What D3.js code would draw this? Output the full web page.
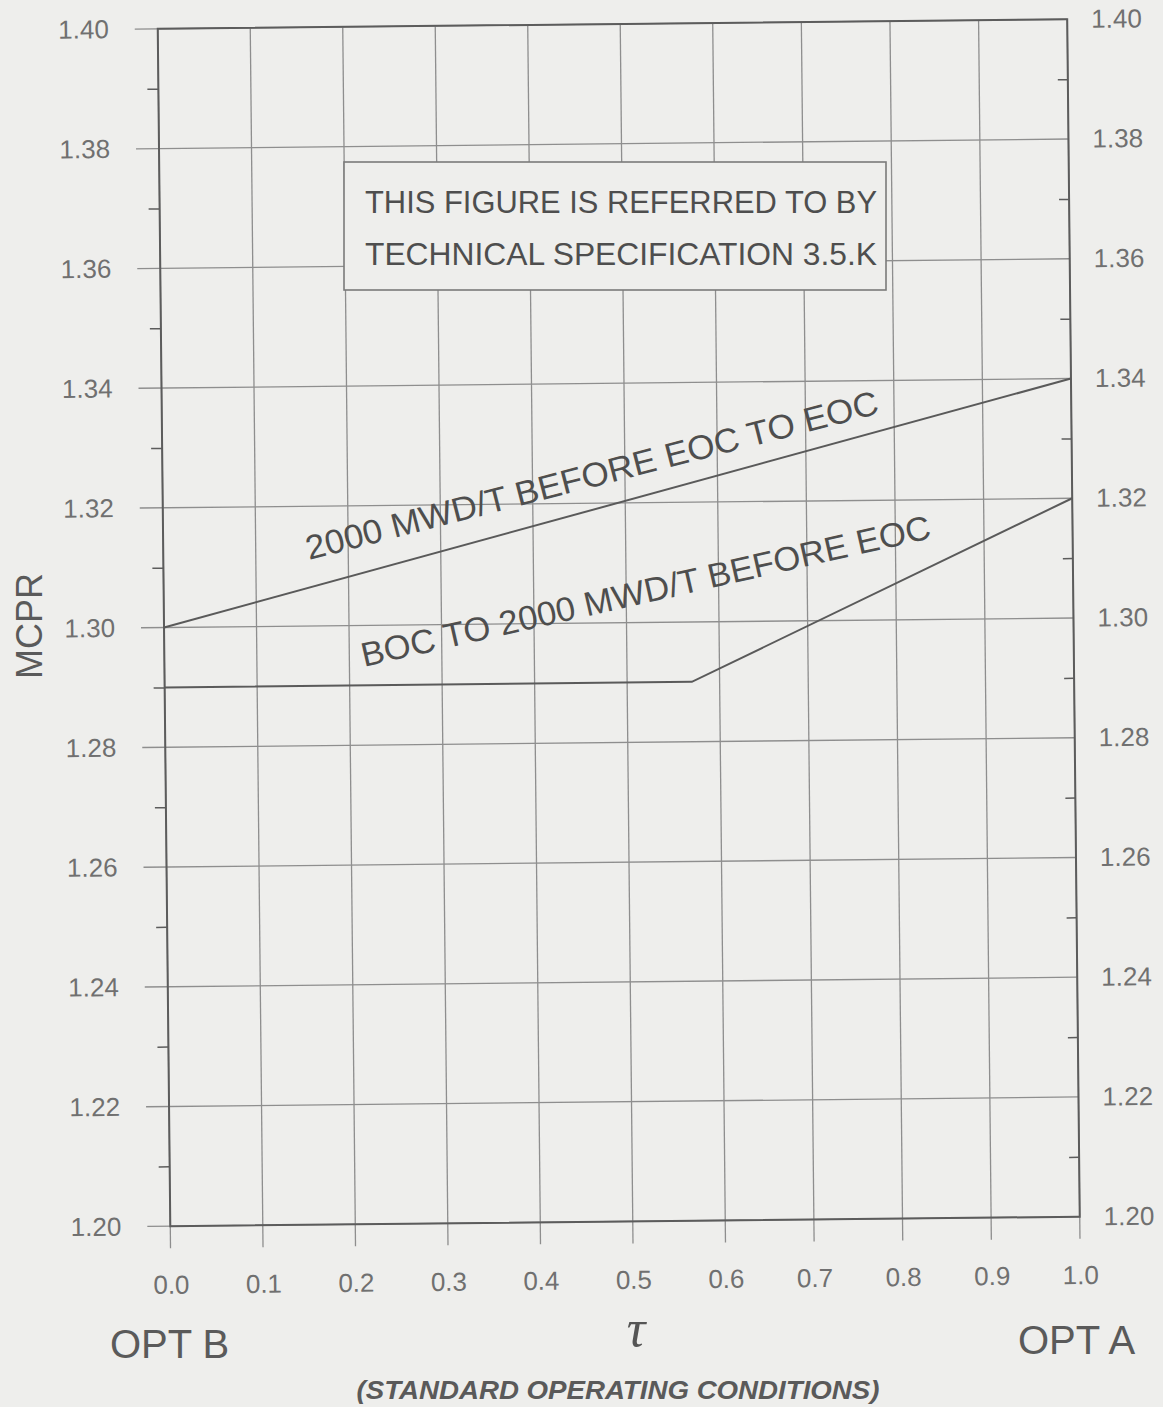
<!DOCTYPE html>
<html><head><meta charset="utf-8">
<script src="https://cdn.jsdelivr.net/npm/d3@7"></script>
<style>
html,body{margin:0;padding:0;background:#eeeeec;}
svg{display:block;}
text{font-family:"Liberation Sans",Arial,Helvetica,sans-serif;}
</style></head><body>
<svg id="chart" width="1163" height="1407"></svg>
<script>
// ---- data ----
const xTicks = [0, 0.1, 0.2, 0.3, 0.4, 0.5, 0.6, 0.7, 0.8, 0.9, 1.0];
const xTickLabels = ["0.0","0.1","0.2","0.3","0.4","0.5","0.6","0.7","0.8","0.9","1.0"];
const yTicks = [1.20, 1.22, 1.24, 1.26, 1.28, 1.30, 1.32, 1.34, 1.36, 1.38, 1.40];
const yTickLabels = ["1.20","1.22","1.24","1.26","1.28","1.30","1.32","1.34","1.36","1.38","1.40"];
const yMinorTicks = [1.21, 1.23, 1.25, 1.27, 1.29, 1.31, 1.33, 1.35, 1.37, 1.39];
const seriesEOC = [{tau: 0.0, mcpr: 1.30}, {tau: 1.0, mcpr: 1.34}];
const seriesBOC = [{tau: 0.0, mcpr: 1.29}, {tau: 0.57, mcpr: 1.29}, {tau: 1.0, mcpr: 1.32}];
const seriesLabels = ["2000 MWD/T BEFORE EOC TO EOC", "BOC TO 2000 MWD/T BEFORE EOC"];
const noteLines = ["THIS FIGURE IS REFERRED TO BY", "TECHNICAL SPECIFICATION 3.5.K"];
const yAxisTitle = "MCPR";
const xAxisTitle = "\u03C4";
const xLeftTitle = "OPT B";
const xRightTitle = "OPT A";
const xSubTitle = "(STANDARD OPERATING CONDITIONS)";

// ---- drawing ----
const svg = d3.select("#chart");
const gridColor = "#8e8e8e", axisColor = "#5c5c5c", labelColor = "#707070", inkColor = "#4e4e4e";

// scanned sheet: slightly non-uniform horizontal scale
const x = d3.scaleLinear().domain([0, 0.6, 1]).range([164, 719, 1073.5]);
const y = d3.scaleLinear().domain([1.20, 1.40]).range([1221.5, 24]);

const g = svg.append("g").attr("transform", "rotate(-0.6 619 623)");

// vertical grid
g.append("g").selectAll("line").data(xTicks).join("line")
  .attr("x1", d => x(d)).attr("x2", d => x(d))
  .attr("y1", y(1.40)).attr("y2", y(1.20) + 22)
  .attr("stroke", gridColor).attr("stroke-width", 1.3);
// horizontal grid
g.append("g").selectAll("line").data(yTicks).join("line")
  .attr("x1", x(0) - 23).attr("x2", x(1))
  .attr("y1", d => y(d)).attr("y2", d => y(d))
  .attr("stroke", gridColor).attr("stroke-width", 1.3);

// frame
g.append("rect")
  .attr("x", x(0)).attr("y", y(1.40))
  .attr("width", x(1) - x(0)).attr("height", y(1.20) - y(1.40))
  .attr("fill", "none").attr("stroke", axisColor).attr("stroke-width", 2);

function styleAxis(sel) {
  sel.select(".domain").remove();
  sel.selectAll(".tick line").attr("stroke", axisColor).attr("stroke-width", 1.5);
  sel.selectAll("text").attr("fill", labelColor).attr("font-size", 26)
    .attr("font-family", "'Liberation Sans', Arial, sans-serif");
}

// left labels
g.append("g").attr("transform", `translate(${x(0)},0)`)
  .call(d3.axisLeft(y).tickValues(yTicks).tickSize(0).tickPadding(49)
    .tickFormat((d, i) => yTickLabels[i]))
  .call(styleAxis);
// left minor ticks (outward)
g.append("g").attr("transform", `translate(${x(0)},0)`)
  .call(d3.axisLeft(y).tickValues(yMinorTicks).tickSize(11).tickFormat(""))
  .call(styleAxis);
// right labels
g.append("g").attr("transform", `translate(${x(1)},0)`)
  .call(d3.axisRight(y).tickValues(yTicks).tickSize(0).tickPadding(24)
    .tickFormat((d, i) => yTickLabels[i]))
  .call(styleAxis);
// right minor ticks (inward)
g.append("g").attr("transform", `translate(${x(1)},0)`)
  .call(d3.axisLeft(y).tickValues(yMinorTicks).tickSize(10).tickFormat(""))
  .call(styleAxis);
// bottom labels
g.append("g").attr("transform", `translate(0,${y(1.20)})`)
  .call(d3.axisBottom(x).tickValues(xTicks).tickSize(0).tickPadding(49)
    .tickFormat((d, i) => xTickLabels[i]))
  .call(styleAxis);

// series lines
const line = d3.line().x(d => x(d.tau)).y(d => y(d.mcpr));
[seriesEOC, seriesBOC].forEach(s => {
  g.append("path").datum(s).attr("d", line)
    .attr("fill", "none").attr("stroke", "#5a5a5a").attr("stroke-width", 2);
});

// note box
svg.append("rect").attr("x", 344).attr("y", 162).attr("width", 542).attr("height", 128)
  .attr("fill", "#eeeeec").attr("stroke", "#7a7a7a").attr("stroke-width", 1.6);
svg.append("g").selectAll("text").data(noteLines).join("text")
  .attr("x", 365).attr("y", (d, i) => 213 + i * 52)
  .attr("font-size", 32).attr("fill", inkColor)
  .attr("textLength", 512).attr("lengthAdjust", "spacingAndGlyphs")
  .text(d => d);

// series labels
const labelPos = [
  {tx: 309, ty: 560, rot: -14.4, len: 590},
  {tx: 364, ty: 667, rot: -12.8, len: 583}
];
svg.append("g").selectAll("text").data(seriesLabels).join("text")
  .attr("transform", (d, i) => `translate(${labelPos[i].tx},${labelPos[i].ty}) rotate(${labelPos[i].rot})`)
  .attr("font-size", 34).attr("fill", inkColor)
  .attr("textLength", (d, i) => labelPos[i].len).attr("lengthAdjust", "spacingAndGlyphs")
  .text(d => d);

// axis titles
svg.append("text").attr("transform", "translate(42,626) rotate(-90)")
  .attr("text-anchor", "middle").attr("font-size", 36).attr("fill", "#5a5a5a")
  .text(yAxisTitle);
svg.append("text").attr("x", 110).attr("y", 1358).attr("font-size", 40).attr("fill", "#5a5a5a")
  .text(xLeftTitle);
svg.append("text").attr("x", 1018).attr("y", 1354).attr("font-size", 40).attr("fill", "#5a5a5a")
  .text(xRightTitle);
svg.append("text").attr("x", 636).attr("y", 1346).attr("text-anchor", "middle")
  .attr("font-size", 52).attr("font-style", "italic").attr("fill", "#555")
  .style("font-family", "'Liberation Serif', 'DejaVu Serif', serif")
  .text(xAxisTitle);
svg.append("text").attr("x", 618).attr("y", 1399).attr("text-anchor", "middle")
  .attr("font-size", 25).attr("font-style", "italic").attr("font-weight", "bold").attr("fill", "#5a5a5a")
  .attr("textLength", 523).attr("lengthAdjust", "spacingAndGlyphs")
  .text(xSubTitle);
</script>
</body></html>
